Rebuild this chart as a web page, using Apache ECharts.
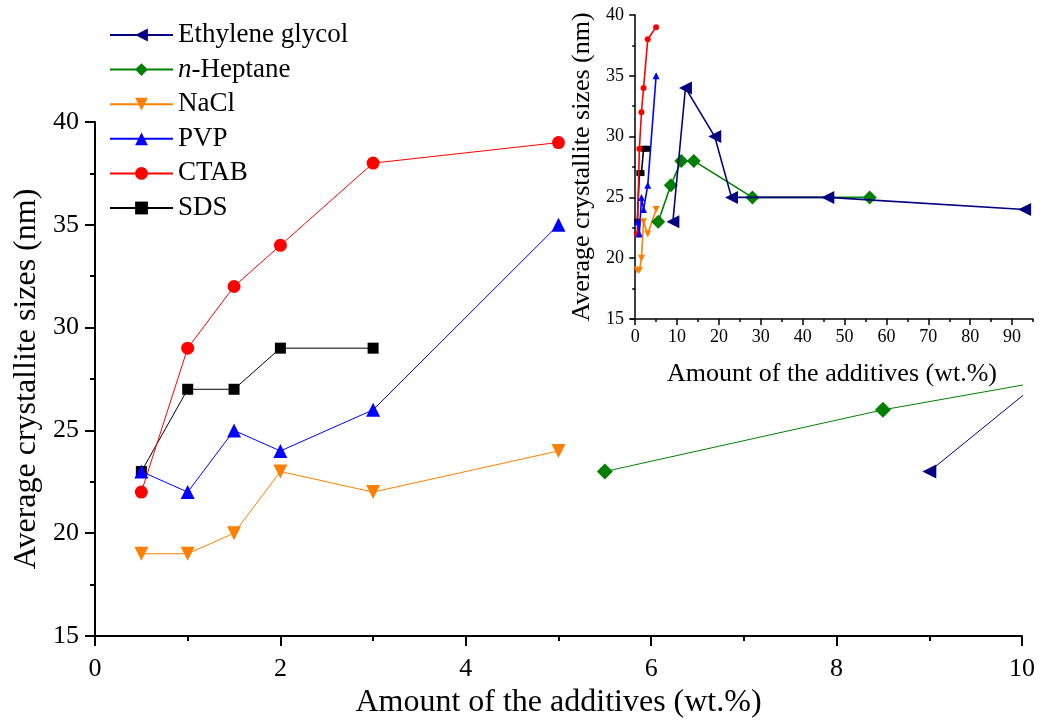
<!DOCTYPE html>
<html>
<head>
<meta charset="utf-8">
<script src="https://cdn.jsdelivr.net/npm/echarts@6/dist/echarts.min.js"></script>
<style>
  html, body { margin: 0; padding: 0; background: #fff; }
  #chart { width: 1041px; height: 724px; }
</style>
</head>
<body>
<div id="chart"></div>
<script>
// Crystallite size (nm) versus amount of additive (wt.%)
const seriesNames = ['Ethylene glycol', 'n-Heptane', 'NaCl', 'PVP', 'CTAB', 'SDS'];
const seriesColors = ['#000080', '#008000', '#ff8000', '#0000ff', '#ff0000', '#000000'];

const egX = [9, 12, 19, 23, 46, 93];
const egY = [23, 34, 30, 25, 25, 24];
const heptaneX = [5.5, 8.5, 11, 14, 28, 56];
const heptaneY = [23, 26, 28, 28, 25, 25];
const naclX = [0.5, 1, 1.5, 2, 3, 5];
const naclY = [19, 19, 20, 23, 22, 24];
const pvpX = [0.5, 1, 1.5, 2, 3, 5];
const pvpY = [23, 22, 25, 24, 26, 35];
const ctabX = [0.5, 1, 1.5, 2, 3, 5];
const ctabY = [22, 29, 32, 34, 38, 39];
const sdsX = [0.5, 1, 1.5, 2, 3];
const sdsY = [23, 27, 27, 29, 29];

const mainXTicks = [0, 2, 4, 6, 8, 10];
const mainYTicks = [15, 20, 25, 30, 35, 40];
const insetXLabels = [0, 10, 20, 30, 40, 50, 60, 70, 80, 90];
const insetXMinor = [5, 15, 25, 35, 45, 55, 65, 75, 85, 95];

const xs = [egX, heptaneX, naclX, pvpX, ctabX, sdsX];
const ys = [egY, heptaneY, naclY, pvpY, ctabY, sdsY];

const FONT = 'Liberation Serif';

function pairs(x, y) { return x.map((v, i) => [v, y[i]]); }

// symbol, rotation, size in main panel, size in inset
const marks = [
  { symbol: 'triangle', rotate: 90, main: 14, inset: 13 },
  { symbol: 'diamond', rotate: 0, main: 16, inset: 14 },
  { symbol: 'triangle', rotate: 180, main: 14, inset: 7 },
  { symbol: 'triangle', rotate: 0, main: 14, inset: 7 },
  { symbol: 'circle', rotate: 0, main: 13, inset: 6 },
  { symbol: 'rect', rotate: 0, main: 11, inset: 6 }
];

const series = [];
seriesNames.forEach((name, i) => {
  series.push({
    name: name,
    type: 'line',
    xAxisIndex: 0, yAxisIndex: 0,
    data: pairs(xs[i], ys[i]),
    symbol: marks[i].symbol,
    symbolRotate: marks[i].rotate,
    symbolSize: marks[i].main,
    showAllSymbol: true,
    clip: true,
    color: seriesColors[i],
    lineStyle: { width: 1, color: seriesColors[i] },
    itemStyle: { color: seriesColors[i] },
    emphasis: { disabled: true },
    animation: false,
    z: 2 + (5 - i)
  });
});
seriesNames.forEach((name, i) => {
  series.push({
    name: name,
    type: 'line',
    xAxisIndex: 1, yAxisIndex: 1,
    data: pairs(xs[i], ys[i]),
    symbol: marks[i].symbol,
    symbolRotate: marks[i].rotate,
    symbolSize: marks[i].inset,
    showAllSymbol: true,
    color: seriesColors[i],
    lineStyle: { width: 1.6, color: seriesColors[i] },
    itemStyle: { color: seriesColors[i] },
    emphasis: { disabled: true },
    animation: false,
    z: 2 + (5 - i)
  });
});

const option = {
  backgroundColor: '#fff',
  animation: false,
  legend: {
    orient: 'vertical',
    left: 104,
    top: 15,
    itemWidth: 63,
    itemHeight: 16,
    itemGap: 4.6,
    data: seriesNames,
    selectedMode: false,
    formatter: function (n) { return n === 'n-Heptane' ? '{i|n}-Heptane' : n; },
    textStyle: {
      fontFamily: FONT, fontSize: 27, lineHeight: 30, color: '#000',
      padding: [0, 0, 0, 0],
      rich: { i: { fontFamily: FONT, fontSize: 27, fontStyle: 'italic', color: '#000' } }
    }
  },
  grid: [
    { left: 95, top: 122, right: 19, bottom: 84, containLabel: false },
    { left: 631, top: 15, right: 8, bottom: 405, containLabel: false }
  ],
  xAxis: [
    {
      type: 'value', gridIndex: 0, min: mainXTicks[0], max: mainXTicks[mainXTicks.length - 1], interval: 2,
      name: 'Amount of the additives (wt.%)', nameLocation: 'middle', nameGap: 51,
      nameTextStyle: { fontFamily: FONT, fontSize: 32, color: '#000' },
      axisLine: { lineStyle: { color: '#000', width: 2 } },
      axisTick: { show: true, length: 10, lineStyle: { color: '#000', width: 2 } },
      minorTick: { show: true, splitNumber: 2, length: 5, lineStyle: { color: '#000', width: 2 } },
      axisLabel: { fontFamily: FONT, fontSize: 26, color: '#000', margin: 20 },
      splitLine: { show: false }
    },
    {
      type: 'value', gridIndex: 1, position: 'bottom', min: -1, max: 95,
      name: 'Amount of the additives (wt.%)', nameLocation: 'middle', nameGap: 42,
      nameTextStyle: { fontFamily: FONT, fontSize: 26, color: '#000' },
      axisLine: { lineStyle: { color: '#000', width: 1.5 } },
      axisTick: { show: true, length: 6, customValues: insetXLabels, lineStyle: { color: '#000', width: 1.5 } },
      axisLabel: { fontFamily: FONT, fontSize: 18, color: '#000', margin: 9, customValues: insetXLabels },
      splitLine: { show: false }
    },
    {
      type: 'value', gridIndex: 1, position: 'bottom', min: -1, max: 95,
      axisLine: { show: false },
      axisTick: { show: true, length: 3, customValues: insetXMinor, lineStyle: { color: '#000', width: 1.5 } },
      axisLabel: { show: false, customValues: insetXMinor },
      splitLine: { show: false }
    }
  ],
  yAxis: [
    {
      type: 'value', gridIndex: 0, min: mainYTicks[0], max: mainYTicks[mainYTicks.length - 1], interval: 5,
      name: 'Average crystallite sizes (nm)', nameLocation: 'middle', nameGap: 50,
      nameTextStyle: { fontFamily: FONT, fontSize: 32, color: '#000' },
      axisLine: { show: true, lineStyle: { color: '#000', width: 2 } },
      axisTick: { show: true, length: 10, lineStyle: { color: '#000', width: 2 } },
      minorTick: { show: true, splitNumber: 2, length: 5, lineStyle: { color: '#000', width: 2 } },
      axisLabel: { fontFamily: FONT, fontSize: 26, color: '#000', margin: 16 },
      splitLine: { show: false }
    },
    {
      type: 'value', gridIndex: 1, min: 15, max: 40, interval: 5,
      name: 'Average crystallite sizes (nm)', nameLocation: 'middle', nameGap: 36,
      nameTextStyle: { fontFamily: FONT, fontSize: 26, color: '#000' },
      axisLine: { show: true, lineStyle: { color: '#000', width: 1.5 } },
      axisTick: { show: true, length: 6, lineStyle: { color: '#000', width: 1.5 } },
      minorTick: { show: true, splitNumber: 2, length: 3, lineStyle: { color: '#000', width: 1.5 } },
      axisLabel: { fontFamily: FONT, fontSize: 18, color: '#000', margin: 7 },
      splitLine: { show: false }
    }
  ],
  series: series
};

const chart = echarts.init(document.getElementById('chart'), null, { renderer: 'canvas' });
chart.setOption(option);
</script>
</body>
</html>
